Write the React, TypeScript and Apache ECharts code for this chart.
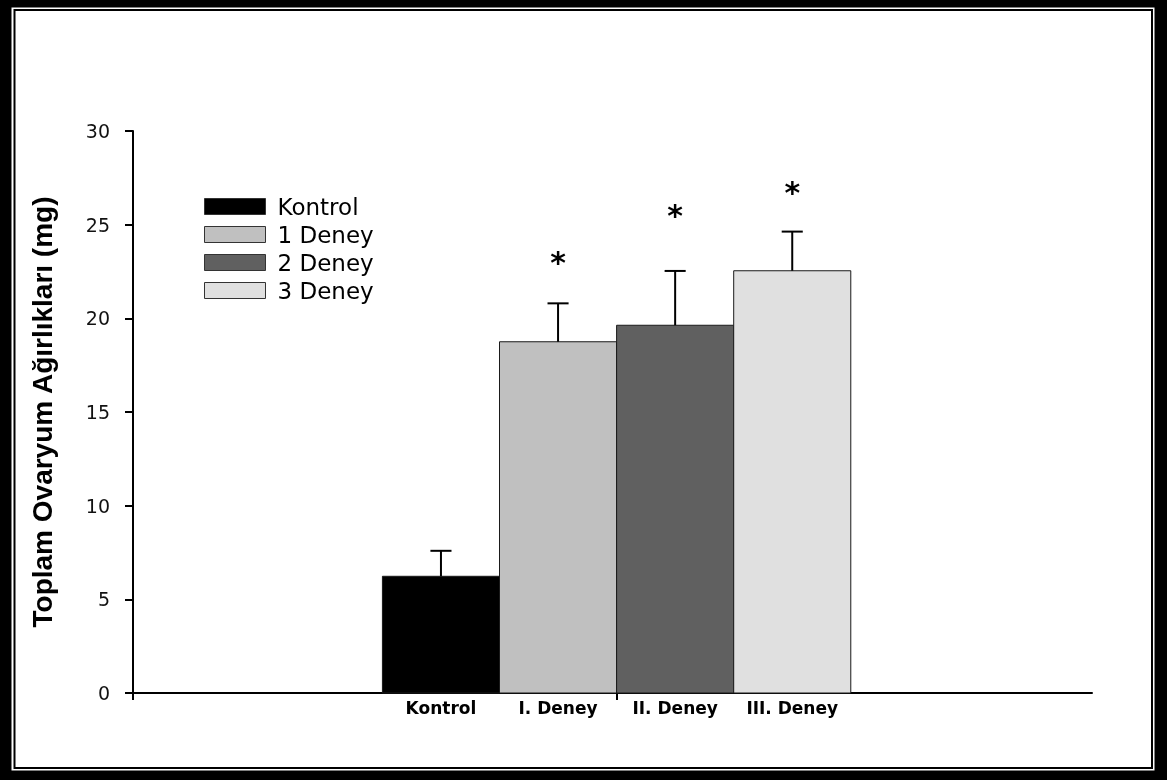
import React, { useEffect, useRef } from "react";
import * as echarts from "echarts";

const categories = ["Kontrol", "I. Deney", "II. Deney", "III. Deney"];
const legendNames = ["Kontrol", "1 Deney", "2 Deney", "3 Deney"];
const meanValues = [6.23, 18.75, 19.63, 22.54];
const errorValues = [1.36, 2.05, 2.9, 2.09];
const starValues: (number | null)[] = [null, 23.0, 25.5, 26.7];
const barColors = ["#000000", "#c0c0c0", "#606060", "#e0e0e0"];
const yTickValues = [0, 5, 10, 15, 20, 25, 30];
const yTitle = "Toplam Ovaryum Ağırlıkları (mg)";

const X_MIN = -2.63;
const X_MAX = 5.56;

export default function App() {
  const ref = useRef<HTMLDivElement>(null);

  useEffect(() => {
    if (!ref.current) return;
    const chart = echarts.init(ref.current, null, { renderer: "svg" });

    const renderItem = (params: any, api: any) => {
      const x = api.value(0);
      const y = api.value(1);
      const top = api.value(2);
      const star = api.value(3);
      const base = api.coord([x, 0]);
      const p = api.coord([x, y]);
      const pTop = api.coord([x, top]);
      const unit = api.size([1, 0])[0];
      const w = unit;
      const cap = unit * 0.18;
      const color = barColors[params.seriesIndex];
      const children: any[] = [
        {
          type: "rect",
          shape: { x: p[0] - w / 2, y: p[1], width: w, height: base[1] - p[1] },
          style: { fill: color, stroke: "#1a1a1a", lineWidth: 1 },
        },
        {
          type: "line",
          shape: { x1: p[0], y1: p[1], x2: pTop[0], y2: pTop[1] },
          style: { stroke: "#000", lineWidth: 2 },
        },
        {
          type: "line",
          shape: { x1: pTop[0] - cap / 2, y1: pTop[1], x2: pTop[0] + cap / 2, y2: pTop[1] },
          style: { stroke: "#000", lineWidth: 2 },
        },
      ];
      if (!isNaN(star)) {
        const ps = api.coord([x, star]);
        children.push({
          type: "text",
          x: ps[0],
          y: ps[1],
          style: {
            text: "*",
            fontSize: 30,
            fontWeight: "bold",
            fontFamily: "DejaVu Sans",
            fill: "#000",
            align: "center",
            verticalAlign: "middle",
          },
        });
      }
      return { type: "group", children };
    };

    const series = legendNames.map((name, i) => ({
      type: "custom",
      name,
      itemStyle: { color: barColors[i] },
      renderItem,
      data: [[i, meanValues[i], meanValues[i] + errorValues[i], starValues[i] === null ? "-" : starValues[i]]],
      encode: { x: 0, y: 1 },
    }));

    chart.setOption({
      animation: false,
      backgroundColor: "transparent",
      graphic: {
        elements: [
          { type: "rect", z: -100, shape: { x: 0, y: 0, width: 1167, height: 780 }, style: { fill: "#000" } },
          { type: "rect", z: -99, shape: { x: 11.5, y: 7.5, width: 1143, height: 763 }, style: { fill: "#fff" } },
          {
            type: "rect",
            z: -98,
            shape: { x: 14.5, y: 10, width: 1137.5, height: 758 },
            style: { fill: "none", stroke: "#000", lineWidth: 2 },
          },
        ],
      },
      legend: {
        orient: "vertical",
        left: 204,
        top: 195,
        padding: 0,
        itemWidth: 61,
        itemHeight: 16,
        itemGap: 5,
        icon: "rect",
        selectedMode: false,
        textStyle: { fontSize: 23, fontFamily: "DejaVu Sans", color: "#000", padding: [0, 0, 0, 7] },
        data: legendNames.map((name, i) => ({
          name,
          itemStyle: { color: barColors[i], borderColor: "#333", borderWidth: 1 },
        })),
      },
      grid: { left: 133, right: 75, top: 131, bottom: 87 },
      xAxis: {
        type: "value",
        min: X_MIN,
        max: X_MAX,
        splitLine: { show: false },
        axisLine: { show: true, onZero: false, lineStyle: { color: "#000", width: 2 } },
        axisTick: { show: true, customValues: [X_MIN, 1.5], length: 7, lineStyle: { color: "#000", width: 2 } },
        axisLabel: {
          customValues: [0, 1, 2, 3],
          formatter: (v: number) => categories[Math.round(v)] ?? "",
          fontSize: 17,
          fontWeight: "bold",
          fontFamily: "DejaVu Sans",
          color: "#000",
          margin: 6,
        },
      },
      yAxis: {
        type: "value",
        min: 0,
        max: 30,
        interval: 5,
        name: yTitle,
        nameLocation: "middle",
        nameRotate: 90,
        nameGap: 77,
        nameTextStyle: { fontSize: 28, fontWeight: "bold", fontFamily: "Liberation Sans", color: "#000" },
        splitLine: { show: false },
        axisLine: { show: true, onZero: false, lineStyle: { color: "#000", width: 2 } },
        axisTick: { show: true, length: 8, lineStyle: { color: "#000", width: 2 } },
        axisLabel: {
          fontSize: 19,
          fontFamily: "DejaVu Sans",
          color: "#111",
          margin: 23,
          formatter: (v: number) => (yTickValues.includes(v) ? String(v) : ""),
        },
      },
      series,
    });

    return () => chart.dispose();
  }, []);

  return (
    <div
      ref={ref}
      style={{ position: "fixed", left: 0, top: 0, width: 1167, height: 780 }}
    />
  );
}
